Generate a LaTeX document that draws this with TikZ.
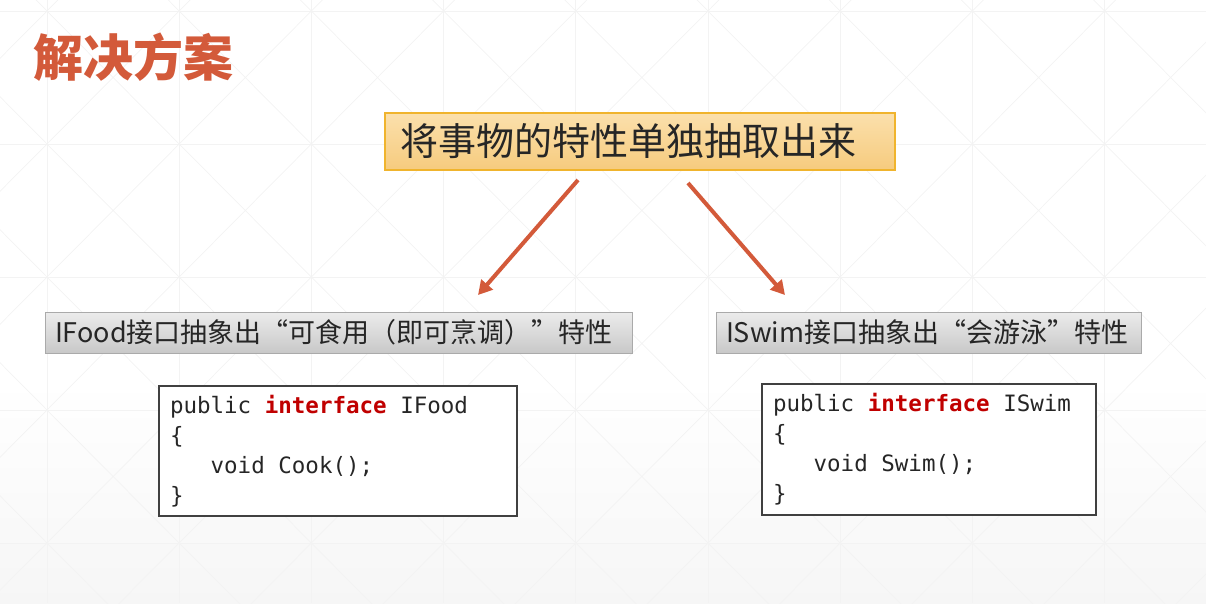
\documentclass[tikz,border=0pt]{standalone}
\usepackage{fontspec}
\setmainfont{Noto Sans CJK SC}
\setmonofont{DejaVu Sans Mono}
\usetikzlibrary{arrows.meta}
\definecolor{titleorange}{RGB}{211,90,58}
\definecolor{ideatop}{RGB}{251,224,172}
\definecolor{ideabot}{RGB}{246,203,126}
\definecolor{ideaborder}{RGB}{240,180,45}
\definecolor{labeltop}{RGB}{236,236,236}
\definecolor{labelbot}{RGB}{200,200,200}
\definecolor{labelborder}{RGB}{170,170,170}
\definecolor{inktext}{RGB}{38,38,38}
\definecolor{kwred}{RGB}{192,0,0}
\definecolor{gridgray}{RGB}{243,243,243}
\newcommand\kw[1]{\textcolor{kwred}{\textbf{#1}}}
\newcommand\codesp{\hphantom{x}}

\begin{document}
\begin{tikzpicture}[x=1pt, y=-1pt,
every node/.style = {inner sep=0pt, outer sep=0pt},
  gridline/.style = {draw=gridgray, line width=0.7pt},
   headline/.style = {text=titleorange, font=\bfseries\fontsize{50}{50}\selectfont},
    ideabox/.style = {draw=ideaborder, line width=1.2pt,
                      top color=ideatop, bottom color=ideabot,
                      minimum width=510pt, minimum height=57pt,
                      text width=480pt, inner xsep=15pt, align=left,
                      text=inktext, font=\fontsize{38}{38}\selectfont},
   labelbox/.style = {draw=labelborder, line width=0.8pt,
                      top color=labeltop, bottom color=labelbot,
                      minimum height=41pt, inner xsep=10pt, align=left,
                      text=inktext, font=\fontsize{27}{27}\selectfont},
    codebox/.style = {draw=black!75, line width=1.2pt, fill=white,
                      inner xsep=11pt, align=left, text=inktext,
                      font=\ttfamily\fontsize{22.5}{30}\selectfont},
      arrow/.style = {draw=titleorange, line width=4pt,
                      -{Triangle[length=14pt,width=15pt]}}
                    ]
\useasboundingbox (0,0) rectangle (1206,603);

% background pattern
\begin{scope}
\clip (0,0) rectangle (1206,603);
\fill[top color=white, bottom color=gray!7] (0,380) rectangle (1206,603);
\foreach \i in {0,...,8}
  \draw[gridline] ({47+132.2*\i},0) -- ({47+132.2*\i},603);
\foreach \j in {0,...,4}
  \draw[gridline] (0,{11+133*\j}) -- (1206,{11+133*\j});
\foreach \i in {-1,...,8}
  \foreach \j in {-1,...,4}
    \draw[gridline] ({47+132.2*\i},{11+133*\j}) -- ({47+132.2*(\i+1)},{11+133*(\j+1)})
                    ({47+132.2*(\i+1)},{11+133*\j}) -- ({47+132.2*\i},{11+133*(\j+1)});
\end{scope}

\node[headline] (heading) at (133,57) {解决方案};

\node[ideabox] (idea) at (640,141.5) {将事物的特性单独抽取出来};

\node[labelbox, minimum width=587pt, text width=567pt] (ifood) at (338.5,332.5)
     {IFood接口抽象出“可食用（即可烹调）”特性};
\node[labelbox, minimum width=425pt, text width=405pt] (iswim) at (928.5,332.5)
     {ISwim接口抽象出“会游泳”特性};

\node[codebox, minimum width=358pt, minimum height=130pt, text width=336pt] (foodcode) at (338,451)
     {public\codesp\kw{interface}\codesp IFood\\\{\\\hphantom{xxx}void\codesp Cook();\\\}};
\node[codebox, minimum width=334pt, minimum height=131pt, text width=312pt] (swimcode) at (929,449.5)
     {public\codesp\kw{interface}\codesp ISwim\\\{\\\hphantom{xxx}void\codesp Swim();\\\}};

\draw[arrow] ([xshift=-62pt,yshift=-10pt]idea.south) -- ([xshift=139.5pt,yshift=17pt]ifood.north);
\draw[arrow] ([xshift=48pt,yshift=-13pt]idea.south) -- ([xshift=-143.5pt,yshift=17pt]iswim.north);
\end{tikzpicture}
\end{document}
